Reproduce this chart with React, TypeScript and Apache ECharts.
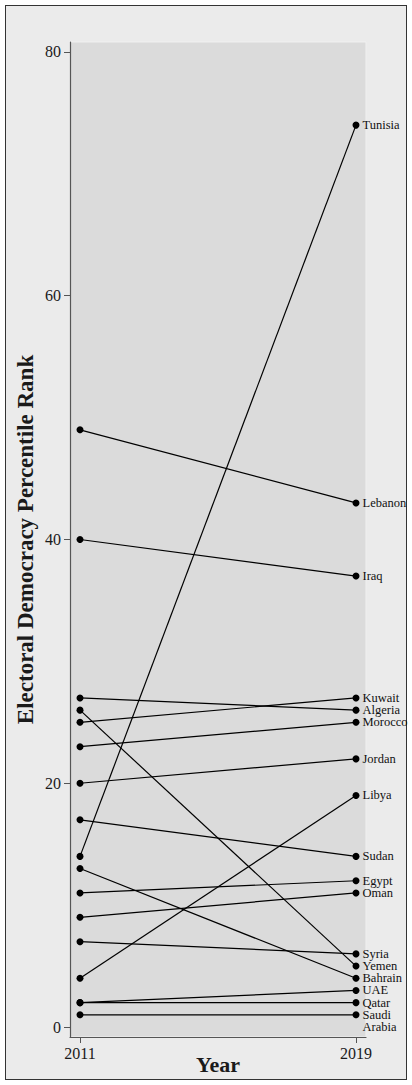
import React, { useEffect, useRef } from "react";
import * as echarts from "echarts";

const countries = ["Tunisia", "Lebanon", "Iraq", "Kuwait", "Algeria", "Morocco", "Jordan", "Libya", "Sudan", "Egypt", "Oman", "Syria", "Yemen", "Bahrain", "UAE", "Qatar", "Saudi\nArabia"];
const rank2011 = [14, 49, 40, 25, 27, 23, 20, 4, 17, 11, 9, 7, 26, 13, 2, 2, 1];
const rank2019 = [74, 43, 37, 27, 26, 25, 22, 19, 14, 12, 11, 6, 5, 4, 3, 2, 1];
const years = [2011, 2019];
const yTicks = [0, 20, 40, 60, 80];

const SERIF = "Liberation Serif";

export default function App() {
  const ref = useRef<HTMLDivElement>(null);
  useEffect(() => {
    if (!ref.current) return;
    const chart = echarts.init(ref.current, null, { renderer: "svg" });
    const series = countries.map((c, i) => ({
      type: "line",
      name: c,
      data: [
        { value: [years[0], rank2011[i]] },
        {
          value: [years[1], rank2019[i]],
          label: {
            show: true,
            position: "right",
            distance: 3,
            formatter: c,
            fontFamily: SERIF,
            fontSize: 12.5,
            lineHeight: 12,
            color: "#111",
            offset: c.includes("\n") ? [0, 6] : [0, 0],
          },
        },
      ],
      symbol: "circle",
      symbolSize: 7,
      itemStyle: { color: "#000" },
      lineStyle: { color: "#000", width: 1.2 },
      silent: true,
    }));
    chart.setOption({
      animation: false,
      grid: {
        left: 70,
        right: 46,
        top: 42,
        bottom: 48,
        show: true,
        backgroundColor: "#dbdbdb",
        borderColor: "#f0f0f0",
        borderWidth: 1,
      },
      xAxis: {
        type: "value",
        min: 2010.71,
        max: 2019.29,
        name: "Year",
        nameLocation: "middle",
        nameGap: 27,
        nameMoveOverlap: false,
        nameTextStyle: { fontFamily: SERIF, fontWeight: "bold", fontSize: 22, color: "#1a1a1a", verticalAlign: "middle" },
        axisLine: { show: true, onZero: false, lineStyle: { color: "#555", width: 1.2 } },
        axisTick: { show: true, customValues: years, length: 6, lineStyle: { color: "#555" } },
        axisLabel: {
          customValues: years,
          formatter: (v: number) => String(v),
          fontFamily: SERIF,
          fontSize: 16,
          color: "#1a1a1a",
          margin: 8,
        },
        splitLine: { show: false },
      },
      yAxis: {
        type: "value",
        min: -0.82,
        max: 80.82,
        name: "Electoral Democracy Percentile Rank",
        nameLocation: "middle",
        nameGap: 45,
        nameMoveOverlap: false,
        nameTextStyle: { fontFamily: SERIF, fontWeight: "bold", fontSize: 23, color: "#1a1a1a", verticalAlign: "middle" },
        axisLine: { show: true, onZero: false, lineStyle: { color: "#555", width: 1.2 } },
        axisTick: { show: true, customValues: yTicks, length: 6, lineStyle: { color: "#555" } },
        axisLabel: { customValues: yTicks, fontFamily: SERIF, fontSize: 16, color: "#1a1a1a", margin: 9 },
        splitLine: { show: false },
      },
      series,
    });
    return () => chart.dispose();
  }, []);
  return (
    <div style={{ position: "fixed", left: 0, top: 0, width: 412, height: 1085, background: "#fff" }}>
      <div
        style={{
          position: "absolute",
          left: 5,
          top: 5,
          width: 402,
          height: 1075,
          boxSizing: "border-box",
          border: "1.5px solid #333",
          background: "#ebebeb",
        }}
      />
      <div ref={ref} style={{ position: "absolute", left: 0, top: 0, width: 412, height: 1085 }} />
    </div>
  );
}
